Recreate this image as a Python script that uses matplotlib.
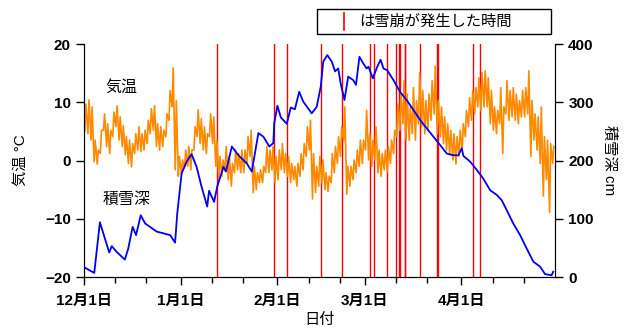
import datetime as dt

import matplotlib
matplotlib.use("Agg")
import matplotlib.pyplot as plt
import matplotlib.dates as mdates
from matplotlib.lines import Line2D
from matplotlib.patches import Rectangle

plt.rcParams["font.family"] = ["Liberation Sans", "Noto Sans CJK JP"]

season_start = dt.datetime(2014, 12, 1)
season_end = dt.datetime(2015, 5, 1)

# Daily high / low air temperature (°C), one entry per day from Dec 1
temp_high = [
    9.7, 10.4, 9.2, 3.5, 1.8, 5.2, 8.0, 6.3, 5.2, 8.3,
    9.4, 7.5, 6.0, 4.1, 3.5, 2.9, 4.6, 5.8, 4.6, 5.2,
    6.9, 8.9, 9.4, 6.3, 5.8, 5.2, 8.0, 12.0, 15.9, 10.3,
    0.7, 0.1, 1.8, 2.4, 1.8, 5.8, 8.7, 7.2, 5.8, 4.6,
    8.0, 7.5, 3.5, 0.7, 0.1, 2.4, 0.7, -0.5, 1.8, 1.2,
    1.8, 1.8, 4.1, 5.2, -1.0, -2.1, -1.6, -1.0, 2.4, 1.8,
    2.4, 0.7, 1.8, 2.9, 1.2, 0.7, -0.5, -1.0, -0.5, 1.2,
    2.9, 5.8, 6.9, 1.2, -1.0, 0.7, 0.1, -2.1, -2.7, 1.2,
    2.4, 4.1, 5.8, 9.2, -1.0, -1.0, 0.1, 1.8, 3.5, 3.5,
    8.6, 4.6, 3.5, 5.8, 1.8, 1.2, 1.8, 2.4, 3.5, 5.2,
    9.7, 11.4, 13.7, 11.4, 9.2, 12.5, 10.3, 15.1, 12.0, 10.3,
    11.4, 13.7, 16.2, 10.3, 9.2, 7.5, 6.3, 5.2, 4.6, 4.1,
    5.2, 6.3, 8.6, 10.8, 12.0, 12.5, 14.2, 15.1, 15.4, 14.2,
    12.0, 9.2, 8.6, 12.5, 9.2, 13.7, 12.0, 12.5, 11.4, 10.3,
    12.0, 12.5, 15.4, 10.3, 8.0, 7.5, 9.2, 4.1, 3.5, 2.9,
    2.4,
]
temp_low = [
    5.0, 4.6, 3.5, -0.2, -0.6, 1.2, 5.2, 2.4, 1.2, 4.1,
    5.8, 3.5, 2.4, 1.0, -0.5, -1.1, 1.2, 1.8, 1.5, 1.8,
    2.9, 4.6, 5.2, 2.4, 1.8, 2.4, 4.1, 6.9, 9.2, -1.6,
    -2.7, -2.4, -1.3, -1.0, -1.6, 1.8, 4.1, 2.9, 1.8, 1.2,
    4.1, 2.9, -1.0, -3.3, -2.7, -1.6, -3.3, -4.4, -2.1, -1.6,
    -2.1, -2.1, -0.5, 0.7, -5.5, -5.0, -3.8, -3.8, -2.1, -2.1,
    -1.6, -3.8, -3.3, -1.6, -2.1, -2.7, -3.8, -3.3, -4.4, -2.7,
    -1.6, 0.7, 1.8, -6.6, -5.5, -4.4, -3.8, -5.0, -5.3, -3.8,
    -2.1, -0.5, 0.7, 3.5, -5.8, -4.4, -3.3, -2.1, -1.0, -0.5,
    1.8, 0.1, -1.0, 0.1, -2.1, -2.7, -1.6, -1.9, -0.5, 1.2,
    4.1, 5.2, 6.3, 3.5, 3.5, 4.6, 3.5, 6.3, 5.8, 4.6,
    5.2, 6.9, 8.0, 4.6, 4.1, 2.9, 1.8, 1.0, 0.1, -0.6,
    0.7, 1.8, 4.1, 5.8, 6.9, 8.0, 9.2, 8.6, 9.2, 9.2,
    6.3, 5.2, 4.6, 6.3, 1.2, 8.0, 6.9, 7.5, 6.9, 6.3,
    7.5, 7.5, 8.0, 0.7, 3.5, 1.8, -0.5, -6.1, -3.3, -8.9,
    -0.5,
]

# Snow depth (cm) on days counted from Dec 1
snow_day = [
    0.3, 3.3, 5.1, 8.1, 8.9, 10.5, 13.1, 14.2, 15.6, 16.7,
    18.2, 19.6, 23.3, 27.6, 29.2, 29.9, 31.3, 32.9, 34.5, 36.1,
    37.7, 39.5, 40.1, 41.7, 42.7, 44.7, 45.5, 47.4, 49.5, 52.2,
    53.8, 55.9, 57.5, 59.4, 60.7, 61.0, 62.0, 63.1, 65.0, 66.3,
    67.6, 69.0, 70.3, 72.2, 73.0, 74.6, 75.9, 76.7, 78.0, 79.4,
    80.5, 81.5, 82.3, 83.5, 84.7, 86.3, 87.2, 88.3, 89.5, 90.6,
    91.2, 92.6, 94.0, 95.1, 96.0, 97.2, 99.2, 101.3, 103.4, 105.6,
    107.7, 109.9, 112.0, 114.1, 116.3, 118.4, 120.0, 121.1, 121.6, 123.8,
    125.9, 128.0, 130.2, 132.3, 133.9, 135.5, 137.6, 139.8, 141.9, 144.1,
    146.2, 147.8, 149.9, 150.4,
]
snow_depth = [
    16, 7, 94, 42, 53, 43, 30, 49, 86, 72,
    106, 92, 78, 72, 59, 109, 178, 198, 211, 189,
    155, 121, 148, 129, 155, 189, 181, 224, 209, 195,
    181, 247, 241, 224, 230, 264, 294, 274, 263, 291,
    288, 318, 301, 287, 281, 292, 327, 370, 381, 370,
    353, 358, 332, 304, 344, 338, 330, 378, 367, 358,
    361, 341, 361, 373, 358, 355, 338, 318, 304, 287,
    270, 255, 241, 227, 212, 209, 209, 221, 208, 198,
    184, 169, 149, 141, 132, 115, 92, 72, 49, 26,
    18, 5, 3, 9,
]

# Avalanche occurrence times, days from Dec 1
avalanche_day = [
    42.74, 60.92, 65.08, 76.08, 82.82, 91.6, 92.98, 97.24, 100.03,
    100.9, 101.2, 102.82, 103.0, 107.6, 113.2, 113.5, 124.6, 126.96,
]

month_dates = ["2014-12-01", "2015-01-01", "2015-02-01", "2015-03-01", "2015-04-01"]
month_labels = ["12月1日", "1月1日", "2月1日", "3月1日", "4月1日"]
temp_ticks = [-20, -10, 0, 10, 20]
snow_ticks = [0, 100, 200, 300, 400]


def to_date(day):
    return season_start + dt.timedelta(days=day)


# Lows in the early morning, highs in the afternoon of each day
temp_t, temp_v = [], []
for d, (lo, hi) in enumerate(zip(temp_low, temp_high)):
    temp_t += [to_date(d + 0.25), to_date(d + 0.6)]
    temp_v += [lo, hi]

fig = plt.figure(figsize=(6.3, 3.31), dpi=100)
ax = fig.add_axes([0.1333, 0.1631, 0.7477, 0.7039])
ax2 = ax.twinx()

for d in avalanche_day:
    ax.axvline(to_date(d), color="#ff0000", lw=1.0, zorder=1)

ax.plot(temp_t, temp_v, color="#ff8a00", lw=1.2, zorder=2)
ax2.plot([to_date(d) for d in snow_day], snow_depth, color="#0000f0", lw=1.3, zorder=3)

ax.set_xlim(season_start, season_end)
ax.set_ylim(-20, 20)
ax2.set_ylim(0, 400)

ax.set_xticks([dt.datetime.fromisoformat(s) for s in month_dates])
ax.set_xticklabels(month_labels)
ax.xaxis.set_minor_locator(mdates.DayLocator(bymonthday=[11, 21]))
ax.set_yticks(temp_ticks)
ax2.set_yticks(snow_ticks)

for a in (ax, ax2):
    a.spines["top"].set_visible(False)
    a.tick_params(which="major", direction="out", length=6, width=1, labelsize=11)
    a.tick_params(which="minor", direction="out", length=4.5, width=1)
    for lab in a.get_xticklabels() + a.get_yticklabels():
        lab.set_fontweight("bold")
ax.tick_params(axis="x", pad=6)

ax.set_ylabel("気温 °C", fontsize=11, labelpad=12)
ax2.set_ylabel("積雪深 cm", fontsize=11, rotation=270, labelpad=16)
ax.set_xlabel("日付", fontsize=11, labelpad=4)

ax.text(to_date(11.9), 12.6, "気温", fontsize=11.5, ha="center", va="center")
ax.text(to_date(13.8), -6.6, "積雪深", fontsize=11.5, ha="center", va="center")

# Key box above the plot
fig.patches.append(Rectangle((0.503, 0.897), 0.371, 0.075, transform=fig.transFigure,
                             fill=False, edgecolor="black", lw=1.0))
fig.lines.append(Line2D([0.546, 0.546], [0.91, 0.96], transform=fig.transFigure,
                        color="#ff0000", lw=1.2))
fig.text(0.57, 0.934, "は雪崩が発生した時間", fontsize=11, ha="left", va="center")

fig.savefig("out.png", dpi=100)
